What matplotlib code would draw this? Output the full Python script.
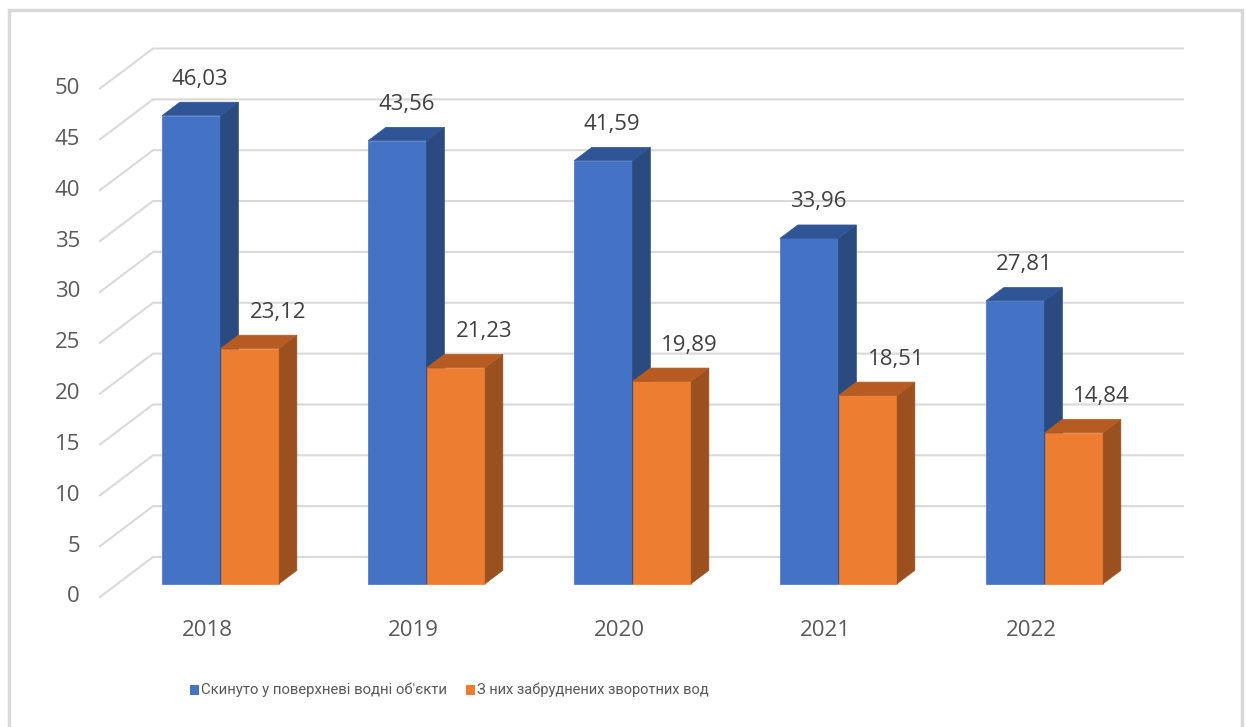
import matplotlib
matplotlib.use("Agg")
import matplotlib.pyplot as plt
from matplotlib.patches import Polygon, Rectangle

# Дані
years = ["2018", "2019", "2020", "2021", "2022"]
discharged = [46.03, 43.56, 41.59, 33.96, 27.81]
polluted = [23.12, 21.23, 19.89, 18.51, 14.84]
series_names = ["Скинуто у поверхневі водні об'єкти", "З них забруднених зворотних вод"]
y_ticks = [0, 5, 10, 15, 20, 25, 30, 35, 40, 45, 50]

# кольори: передня грань, бічна, верхня
blue = ("#4472C4", "#2B4A80", "#2F5597")
orange = ("#ED7D31", "#9A501F", "#B65C22")

W, H = 1246, 727
PX_CAT = 206.0      # пікселів на категорію
PX_VAL = 10.17      # пікселів на одиницю
X0, Y0 = 100, 597   # передній кут осі (піксель)
DDX = 17.67 / PX_CAT   # зсув глибини на 1 одиницю
DDV = 13.33 / PX_VAL
DEPTH = 3
BAR_W = 58.5 / PX_CAT
GRID = "#D9D9D9"
TXT = "#595959"


def proj(x, v, d):
    return (x + d * DDX, v + d * DDV)


fig = plt.figure(figsize=(W / 100, H / 100), dpi=100)
ax = fig.add_axes([0, 0, 1, 1])
ax.set_xlim(-X0 / PX_CAT, (W - X0) / PX_CAT)
ax.set_ylim((Y0 - H) / PX_VAL, Y0 / PX_VAL)
ax.axis("off")

# рамка діаграми
fig.patches.append(Rectangle((9 / W, -0.01), (1242 - 9) / W, 1 - 10 / H + 0.01,
                             transform=fig.transFigure, fill=False,
                             edgecolor="#D9D9D9", linewidth=2.5))

# сітка: бічна стінка + задня стінка
n = len(years)
for t in y_ticks:
    p0 = proj(0, t, 0)
    p1 = proj(0, t, DEPTH)
    p2 = proj(n, t, DEPTH)
    ax.plot([p0[0], p1[0], p2[0]], [p0[1], p1[1], p2[1]], color=GRID, lw=1.5,
            solid_joinstyle="miter", zorder=1)
    ax.text(-20 / PX_CAT, t, str(t), ha="right", va="center", fontsize=16,
            color=TXT, family="Open Sans")


def bar3d(x_left, val, cols):
    x_right = x_left + BAR_W
    front = [proj(x_left, 0, 1), proj(x_right, 0, 1), proj(x_right, val, 1), proj(x_left, val, 1)]
    side = [proj(x_right, 0, 1), proj(x_right, 0, 2), proj(x_right, val, 2), proj(x_right, val, 1)]
    top = [proj(x_left, val, 1), proj(x_right, val, 1), proj(x_right, val, 2), proj(x_left, val, 2)]
    for poly, c in ((front, cols[0]), (side, cols[1]), (top, cols[2])):
        ax.add_patch(Polygon(poly, closed=True, facecolor=c, edgecolor=c, lw=0.5, zorder=2))


for i in range(n):
    c = i + 0.5
    bar3d(c - BAR_W, discharged[i], blue)
    bar3d(c, polluted[i], orange)

    # підписи значень
    bx, by = proj(c - BAR_W / 2, discharged[i], 2)
    ax.text(bx - 0.5 * DDX, by + 23 / PX_VAL, f"{discharged[i]:.2f}".replace(".", ","),
            ha="center", va="center", fontsize=16, color="#404040", family="Open Sans")
    ox, oy = proj(c + BAR_W / 2, polluted[i], 2)
    ax.text(ox - 0.5 * DDX + 19 / PX_CAT, oy + 23 / PX_VAL, f"{polluted[i]:.2f}".replace(".", ","),
            ha="center", va="center", fontsize=16, color="#404040", family="Open Sans")

    ax.text(c + 0.02, -33 / PX_VAL, years[i], ha="center", va="center", fontsize=16,
            color=TXT, family="Open Sans")

# легенда
leg_y = (Y0 - 690) / PX_VAL
renderer = fig.canvas.get_renderer()
for sx, name, col, target_w in ((190, series_names[0], blue[0], 245),
                                (466, series_names[1], orange[0], 232)):
    ax.add_patch(Rectangle(((sx - X0) / PX_CAT, leg_y - 5 / PX_VAL), 9 / PX_CAT, 10 / PX_VAL,
                           facecolor=col, edgecolor="none"))
    t = ax.text((sx + 11 - X0) / PX_CAT, leg_y, name, ha="left", va="center", fontsize=12,
                color=TXT, family="Roboto")
    # підганяємо розмір під ширину як у оригіналі
    w = t.get_window_extent(renderer).width
    t.set_fontsize(12 * target_w / w)

fig.savefig("out.png", dpi=100)
